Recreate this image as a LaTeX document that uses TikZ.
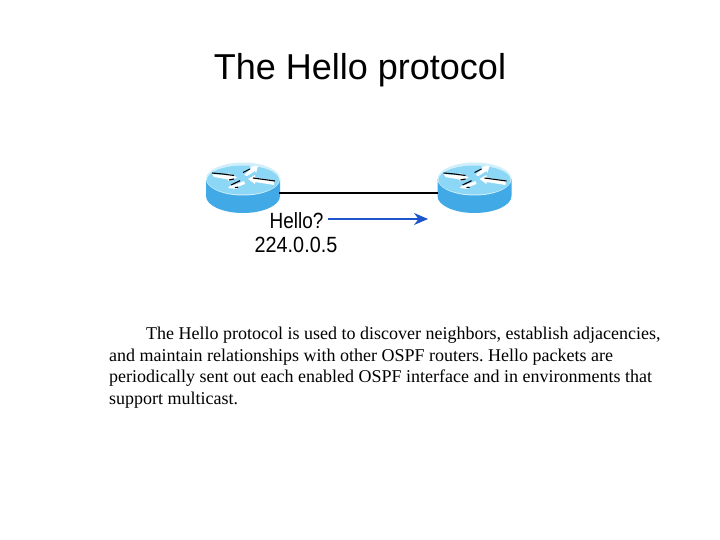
\documentclass[tikz,border=0pt]{standalone}
\usepackage{fontspec}
\usepackage{graphicx}
\usetikzlibrary{arrows.meta}
\setmainfont{Liberation Sans}
\newfontfamily\bodyfont{Liberation Serif}
\definecolor{rtop}{RGB}{140,215,245}
\definecolor{rside}{RGB}{65,170,230}
\definecolor{harrow}{RGB}{30,85,205}
\tikzset{
  px/.style={x=1pt,y=-1pt},
  titletext/.style={inner sep=0pt,font=\fontsize{36}{36}\selectfont},
  labeltext/.style={inner sep=0pt,font=\fontsize{22}{22}\selectfont},
  bodyline/.style={inner sep=0pt,anchor=base west,font=\bodyfont\fontsize{18}{20}\selectfont\frenchspacing},
  link/.style={line width=1.5pt,black},
  hello/.style={line width=1.5pt,harrow,-{Stealth[length=14pt,width=12pt]}},
  ba/.style={line width=1.1pt,black}
}
\newcommand{\routericon}[1]{%
  \begin{scope}[shift={(#1,179)}]
    \fill[rside] (-37,0) -- (-37,17) arc[start angle=180,end angle=0,x radius=37,y radius=17] -- (37,0) -- cycle;
    \fill[white!60!rtop] (0,0) ellipse[x radius=37,y radius=16.5];
    \fill[rtop] (0,1) ellipse[x radius=36,y radius=14.5];
    % left arrow
    \fill[white] (-31,-5) -- (-15,-3.5) -- (-15,-6) -- (-6,-1.5) -- (-15,2.5) -- (-15,0.5) -- (-29,-2) -- cycle;
    \draw[ba] (-31,-6) -- (-20,-5) -- (-9,-3.5);
    \draw[ba] (-14,1) -- (-9,0);
    % right arrow
    \fill[white] (31,6) -- (12,3) -- (12,5) -- (5,0) -- (12,-4) -- (12,-1.5) -- (31,1.5) -- cycle;
    \draw[ba] (10,-1) -- (32,2);
    % upper arrow
    \fill[white] (1,-4) -- (4,-3) -- (12,-8) -- (13,-6) -- (15,-13) -- (7,-12.5) -- (8,-10.5) -- cycle;
    \draw[ba] (0,-6.5) -- (7,-10);
    % lower arrow
    \fill[white] (1,2) -- (-9,6) -- (-10,4.5) -- (-15,9) -- (-6,10) -- (-7,8.5) -- (2,5) -- cycle;
    \draw[ba] (-12,6) -- (-3,1.7);
    \draw[ba] (-8,8.6) -- (-5,8.2);
  \end{scope}}
\begin{document}
\begin{tikzpicture}[px]
\useasboundingbox (0,0) rectangle (720,540);
\fill[white] (0,0) rectangle (720,540);
\node[titletext] (title) at (360,70) {The Hello protocol};
\routericon{243}
\routericon{474.5}
\coordinate (routerA) at (279,193);
\coordinate (routerB) at (438,193);
\draw[link] (routerA) -- (routerB);
\node[labeltext] (hellolabel) at (296.5,220.5) {\scalebox{.86}[1]{Hello?}};
\node[labeltext] (addr) at (296,245) {\scalebox{.9}[1]{224.0.0.5}};
\coordinate (arrowstart) at (328,219);
\coordinate (arrowend) at (428,219);
\draw[hello] (arrowstart) -- (arrowend);
\node[bodyline] (l1) at (146,339) {The Hello protocol is used to discover neighbors, establish adjacencies,};
\node[bodyline] (l2) at (109,361) {and maintain relationships with other OSPF routers. Hello packets are};
\node[bodyline] (l3) at (109,382) {periodically sent out each enabled OSPF interface and in environments that};
\node[bodyline] (l4) at (109,404) {support multicast.};
\end{tikzpicture}
\end{document}
